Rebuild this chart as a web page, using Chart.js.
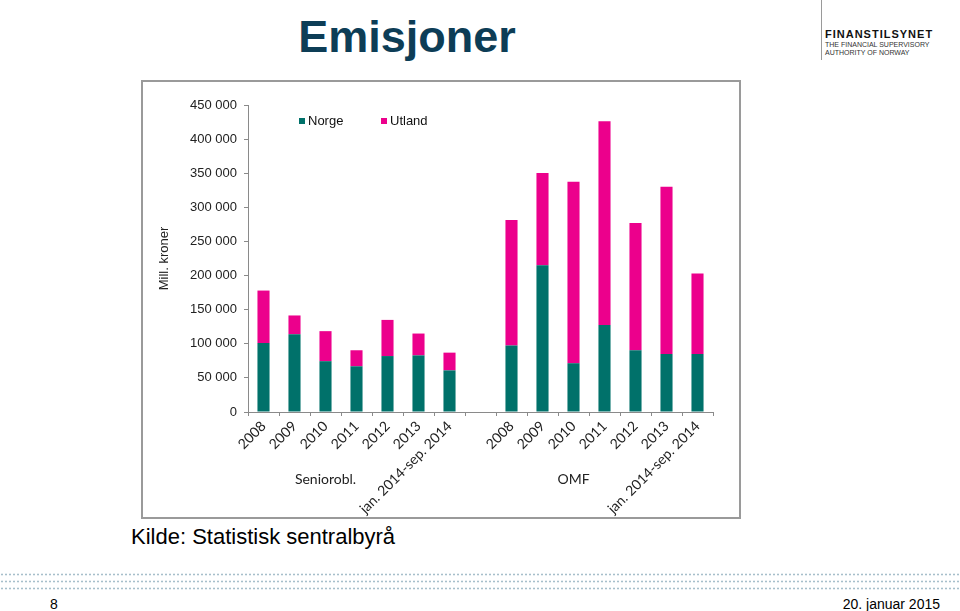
<!DOCTYPE html>
<html>
<head>
<meta charset="utf-8">
<script src="https://cdn.jsdelivr.net/npm/chart.js@4.4.1/dist/chart.umd.min.js"></script>
<style>
  body { margin: 0; width: 960px; height: 611px; background: #fff; position: relative; overflow: hidden;
         font-family: "Liberation Sans", Arial, sans-serif; }
  #title { position: absolute; left: 0; width: 814px; top: 14px; line-height: 45px; text-align: center;
           font-weight: bold; font-size: 45px; color: #0d3d56; }
  #logo-line { position: absolute; left: 821px; top: 0; width: 1px; height: 60px; background: #9a9a9a; }
  #logo1 { position: absolute; left: 825px; top: 28px; font-size: 11px; font-weight: bold; letter-spacing: 1px; color: #111; }
  #logo2 { position: absolute; left: 825px; top: 41px; font-size: 7px; line-height: 7.5px; color: #333; }
  #box { position: absolute; left: 141px; top: 80px; width: 596px; height: 435px; border: 2px solid #9a9a9a; }
  #box canvas { position: absolute; left: 0; top: 0; }
  #kilde { position: absolute; left: 131px; top: 526px; font-size: 22px; line-height: 22px; color: #000; }
  #dots { position: absolute; left: 0; top: 571px; width: 960px; height: 21px;
          background-image: radial-gradient(circle, #a7bfcb 0.9px, transparent 1.2px);
          background-size: 4px 7px; }
  #page { position: absolute; left: 50px; top: 596px; font-family: "Liberation Sans Narrow", "Liberation Sans", sans-serif; font-size: 14px; }
  #date { position: absolute; right: 20px; top: 596px; font-family: "Liberation Sans Narrow", "Liberation Sans", sans-serif; font-size: 14px; }
</style>
</head>
<body>
<div id="title">Emisjoner</div>
<div id="logo-line"></div>
<div id="logo1">FINANSTILSYNET</div>
<div id="logo2">THE FINANCIAL SUPERVISORY<br>AUTHORITY OF NORWAY</div>
<div id="box"><canvas id="chart" width="596" height="435"></canvas></div>
<div id="kilde">Kilde: Statistisk sentralbyrå</div>
<div id="dots"></div>
<div id="page">8</div>
<div id="date">20. januar 2015</div>

<script>
// ---- Data ----
const years = ['2008', '2009', '2010', '2011', '2012', '2013', 'jan. 2014-sep. 2014'];
const labels = [...years, '', ...years];

const norgeSenior  = [101000, 114000, 74500, 67000, 82000, 83000, 61000];
const utlandSenior = [77000, 27500, 44000, 23500, 53000, 32000, 26000];
const norgeOmf     = [97500, 215000, 71500, 127500, 90500, 85000, 85000];
const utlandOmf    = [184000, 135500, 266000, 298500, 186500, 245000, 118000];

const groupNames = ['Seniorobl.', 'OMF'];
const groupStart = [0, 8];

const yTicks = [0, 50000, 100000, 150000, 200000, 250000, 300000, 350000, 400000, 450000];

const TEAL = '#00716a';
const PINK = '#ec008c';

// ---- Plugins: Excel-like legend and group labels ----
const legendPlugin = {
  id: 'xlLegend',
  afterDraw(chart) {
    const ctx = chart.ctx;
    const xs = [156, 238];
    ctx.save();
    ctx.font = '13px "Liberation Sans", Arial, sans-serif';
    ctx.textBaseline = 'middle';
    chart.data.datasets.forEach((ds, i) => {
      ctx.fillStyle = ds.backgroundColor;
      ctx.fillRect(xs[i], 36, 6, 6);
      ctx.fillStyle = '#111';
      ctx.fillText(ds.label, xs[i] + 9, 39);
    });
    ctx.restore();
  }
};

const groupPlugin = {
  id: 'groups',
  afterDraw(chart) {
    const ctx = chart.ctx;
    const x = chart.scales.x;
    ctx.save();
    ctx.font = '14px Lato, "Liberation Sans", sans-serif';
    ctx.fillStyle = '#222';
    ctx.textAlign = 'center';
    ctx.textBaseline = 'middle';
    groupNames.forEach((name, i) => {
      ctx.fillText(name, x.getPixelForValue(groupStart[i] + 2), 397);
    });
    ctx.restore();
  }
};

new Chart(document.getElementById('chart'), {
  type: 'bar',
  data: {
    labels: labels,
    datasets: [
      { label: 'Norge',  data: [...norgeSenior, null, ...norgeOmf],   backgroundColor: TEAL },
      { label: 'Utland', data: [...utlandSenior, null, ...utlandOmf], backgroundColor: PINK }
    ]
  },
  options: {
    responsive: false,
    animation: false,
    layout: { padding: { top: 23, right: 26, left: 0, bottom: 0 } },
    datasets: { bar: { categoryPercentage: 1, barPercentage: 0.39 } },
    plugins: { legend: { display: false }, tooltip: { enabled: false } },
    scales: {
      x: {
        stacked: true,
        afterFit: s => { s.height = 105; },
        grid: { offset: true, drawOnChartArea: false, drawTicks: true, tickLength: 4, color: '#8a8a8a' },
        border: { color: '#8a8a8a' },
        ticks: {
          autoSkip: false, minRotation: 45, maxRotation: 45, padding: 2,
          color: '#222', font: { family: 'Lato, "Liberation Sans", sans-serif', size: 14 }
        }
      },
      y: {
        stacked: true,
        min: 0, max: 450000,
        afterFit: s => { s.width = 105; },
        afterBuildTicks: s => { s.ticks = yTicks.map(v => ({ value: v })); },
        grid: { drawOnChartArea: false, drawTicks: true, tickLength: 4, color: '#8a8a8a' },
        border: { color: '#8a8a8a' },
        ticks: {
          padding: 7, color: '#222',
          font: { family: '"Liberation Sans", Arial, sans-serif', size: 13 },
          callback: v => v === 0 ? '0' : String(v).replace(/\B(?=(\d{3})+(?!\d))/g, ' ')
        },
        title: {
          display: true, text: 'Mill. kroner', color: '#222',
          font: { family: '"Liberation Sans", Arial, sans-serif', size: 13 },
          padding: { top: 14, bottom: 0 }
        }
      }
    }
  },
  plugins: [legendPlugin, groupPlugin]
});
</script>
</body>
</html>
